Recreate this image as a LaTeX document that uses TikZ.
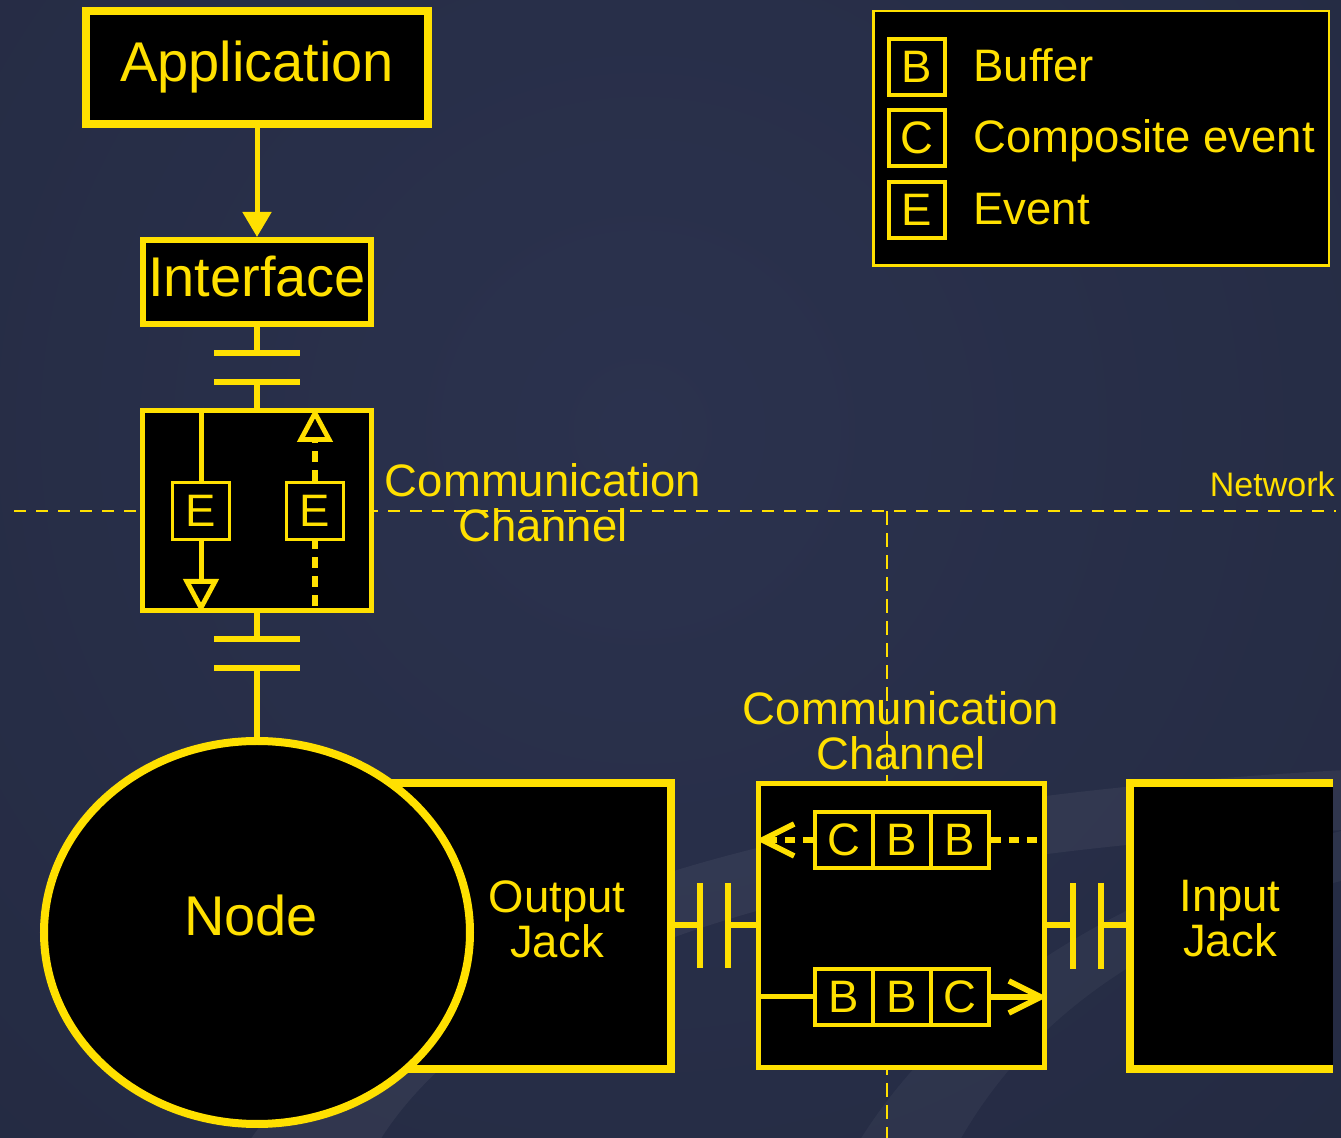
\documentclass[tikz,border=0pt]{standalone}
\usepackage{fontspec}
\setmainfont{Liberation Sans}
\usetikzlibrary{arrows.meta,shapes.geometric,calc}

\definecolor{yel}{RGB}{255,224,0}
\definecolor{bglo}{RGB}{29,35,54}
\definecolor{bghi}{RGB}{43,50,78}

\newcommand\fbig{\fontsize{28pt}{30pt}\selectfont}
\newcommand\fmid{\fontsize{22.75pt}{22.5pt}\selectfont}
\newcommand\fsmall{\fontsize{17pt}{20pt}\selectfont}

\begin{document}
\begin{tikzpicture}[x=0.5pt,y=-0.5pt,
  frame/.style={draw=yel, fill=black, rectangle, inner sep=0pt, text=yel},
  lbl/.style={text=yel, inner sep=0pt, font=\fmid},
  wire/.style={draw=yel, line width=2.75pt},
  plate/.style={draw=yel, line width=2.75pt},
  netline/.style={draw=yel, line width=1.4pt, dash pattern=on 6pt off 5pt},
  cell/.style={frame, line width=1.75pt, minimum width=29pt, minimum height=28pt, font=\fmid},
  key/.style={frame, line width=2pt, minimum width=28pt, minimum height=28pt, font=\fmid},
  openhead/.style={-{Triangle[open, length=17pt, width=17.5pt, line width=2.4pt]}},
  barb/.style={-{Straight Barb[length=16pt, width=16pt]}},
]
\useasboundingbox (0,0) rectangle (1341,1138);

% background with soft glow and swoosh
\fill[bglo] (0,0) rectangle (1341,1138);
\begin{scope}
  \clip (0,0) rectangle (1341,1138);
  \shade[inner color=bghi, outer color=bglo] (640,430) circle (1000pt);
  \fill[white, opacity=0.05] (250,1140) .. controls (420,900) and (800,800) .. (1345,770)
     -- (1345,830) .. controls (850,850) and (500,950) .. (380,1140) -- cycle;
  \fill[white, opacity=0.04] (860,1140) .. controls (960,980) and (1150,880) .. (1345,830)
     -- (1345,880) .. controls (1180,920) and (1040,1000) .. (960,1140) -- cycle;
\end{scope}

% network boundary
\coordinate (netL) at (14,511);
\coordinate (netR) at (1336,511);
\coordinate (vtop) at (887,511);
\coordinate (vbot) at (887,1140);
\draw[netline] (netL) -- (netR);
\draw[netline, dash pattern=on 7pt off 4pt] (vtop) -- (vbot);
\node[lbl, font=\fsmall, anchor=base east] (netlbl) at (1335,497) {Network};

% application and interface
\node[frame, line width=4pt, minimum width=171pt, minimum height=56.5pt, font=\fbig] (app) at (257,67.5) {Application};
\node[frame, line width=3pt, minimum width=114pt, minimum height=42pt, font=\fbig, text depth=5.5pt] (iface) at (257,282) {Interface};
\draw[wire, line width=2.5pt, -{Triangle[length=12.5pt, width=14pt]}] (app) -- (iface);

% first communication channel
\node[frame, line width=2.5pt, minimum width=114.5pt, minimum height=100pt] (ch1) at (257,510.5) {};
\node[lbl, align=center] (ch1lbl) at (543,502.5) {Communication\\Channel};

\coordinate (p1) at (257,353);
\coordinate (p2) at (257,382);
\draw[wire] (iface.south) -- (p1);
\draw[plate] ($(p1)+(-43,0)$) -- ($(p1)+(43,0)$);
\draw[plate] ($(p2)+(-43,0)$) -- ($(p2)+(43,0)$);
\draw[wire] (p2) -- (ch1.north);

\node[cell, minimum width=28.5pt, minimum height=28.5pt] (e1) at (201,511) {E};
\node[cell, minimum width=28.5pt, minimum height=28.5pt] (e2) at (315,511) {E};
\coordinate (e2in) at (315,606);
\draw[wire, line width=2.5pt] (e1.north |- ch1.north) -- (e1.north);
\draw[wire, line width=2.5pt, openhead] (e1.south) -- (e1.south |- ch1.south);
\draw[wire, line width=2.9pt, dash pattern=on 5.5pt off 4pt] (e2in) -- (e2.south);
\draw[wire, line width=2.9pt, dash pattern=on 5.5pt off 4pt, openhead] (e2.north) -- (e2.north |- ch1.north);

\coordinate (p3) at (257,639);
\coordinate (p4) at (257,668);
\draw[wire] (ch1.south) -- (p3);
\draw[plate] ($(p3)+(-43,0)$) -- ($(p3)+(43,0)$);
\draw[plate] ($(p4)+(-43,0)$) -- ($(p4)+(43,0)$);

% node with its output jack
\node[frame, line width=4pt, minimum width=155.5pt, minimum height=143pt] (ojack) at (515.5,926) {};
\node[frame, ellipse, line width=4pt, minimum width=213pt, minimum height=191.5pt] (nd) at (257,932.5) {};
\draw[wire] (p4) -- (nd.north);
\node[lbl, font=\fbig] (ndlbl) at (251,915.5) {Node};
\node[lbl, align=center] (olbl) at (557,919) {Output\\Jack};

% second communication channel
\node[frame, line width=2.5pt, minimum width=143pt, minimum height=142pt] (ch2) at (901.5,925.5) {};
\node[lbl, align=center] (ch2lbl) at (901,731) {Communication\\Channel};

\coordinate (q1) at (700,925);
\coordinate (q2) at (728,925);
\draw[wire] (ojack.east |- q1) -- (q1);
\draw[plate] ($(q1)+(0,-42)$) -- ($(q1)+(0,43)$);
\draw[plate] ($(q2)+(0,-42)$) -- ($(q2)+(0,43)$);
\draw[wire] (q2) -- (ch2.west |- q2);

\node[cell] (t1) at (844,840) {C};
\node[cell] (t2) at (902,840) {B};
\node[cell] (t3) at (960,840) {B};
\draw[wire, line width=2.75pt, dash pattern=on 5pt off 4pt] (t3.east) -- (ch2.east |- t3.east);
\draw[wire, line width=2.75pt, dash pattern=on 5pt off 4pt, barb] (t1.west) -- (ch2.west |- t1.west);

\node[cell] (b1) at (844,997) {B};
\node[cell] (b2) at (902,997) {B};
\node[cell] (b3) at (960,997) {C};
\draw[wire, line width=2.5pt] (ch2.west |- b1.west) -- (b1.west);
\draw[wire, line width=2.75pt, barb] (b3.east) -- (ch2.east |- b3.east);

% input jack
\node[fill=black, inner sep=0pt, outer sep=0pt, minimum width=101.5pt, minimum height=143pt] (ijack) at (1231.5,926) {};
\draw[draw=yel, line width=3.75pt] (ijack.north east) -- (ijack.north west) -- (ijack.south west) -- (ijack.south east);
\node[lbl, align=center] (ilbl) at (1230,919) {Input\\Jack};

\coordinate (r1) at (1073,925);
\coordinate (r2) at (1101,925);
\draw[wire] (ch2.east |- r1) -- (r1);
\draw[plate] ($(r1)+(0,-42)$) -- ($(r1)+(0,44)$);
\draw[plate] ($(r2)+(0,-42)$) -- ($(r2)+(0,44)$);
\draw[wire] (r2) -- (ijack.west |- r2);

% legend
\node[frame, line width=1.25pt, minimum width=227.75pt, minimum height=127.25pt] (legend) at (1101,138.5) {};
\node[key] (kb) at (917,67) {B};
\node[key] (kc) at (917,138) {C};
\node[key] (ke) at (917,210) {E};
\node[lbl, anchor=base west] (kbl) at (973,82) {Buffer};
\node[lbl, anchor=base west] (kcl) at (973,153) {Composite event};
\node[lbl, anchor=base west] (kel) at (973,225) {Event};
\end{tikzpicture}
\end{document}
